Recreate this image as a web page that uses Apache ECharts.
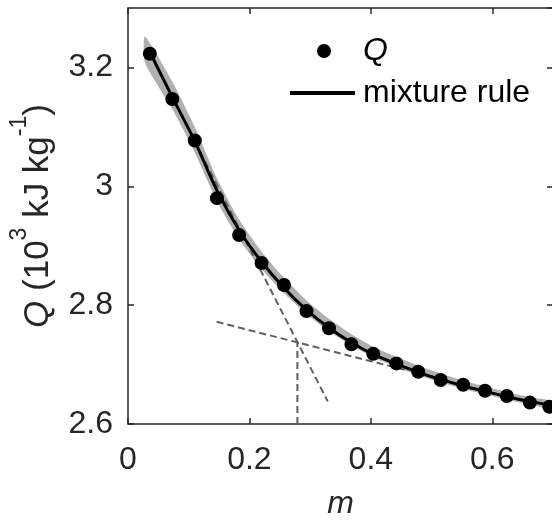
<!DOCTYPE html>
<html>
<head>
<meta charset="utf-8">
<script src="https://cdn.jsdelivr.net/npm/echarts@6/dist/echarts.min.js"></script>
<style>html,body{margin:0;padding:0;background:#fff;}#c{width:552px;height:521px;}</style>
</head>
<body>
<div id="c"></div>
<script>
// Data
var qM = [0.036, 0.073, 0.110, 0.1465, 0.183, 0.220, 0.257, 0.294, 0.331, 0.368, 0.404, 0.442, 0.478, 0.515, 0.552, 0.588, 0.624, 0.662, 0.694];
var qV = [3.223, 3.147, 3.077, 2.980, 2.918, 2.871, 2.834, 2.790, 2.761, 2.734, 2.718, 2.702, 2.688, 2.674, 2.666, 2.656, 2.647, 2.636, 2.629];

var mixM = [0.036, 0.073, 0.110, 0.1465, 0.183, 0.220, 0.257, 0.294, 0.331, 0.368, 0.404, 0.442, 0.478, 0.515, 0.552, 0.588, 0.624, 0.662, 0.700];
var mixV = [3.226, 3.150, 3.076, 2.993, 2.926, 2.873, 2.829, 2.792, 2.762, 2.737, 2.717, 2.701, 2.687, 2.675, 2.664, 2.655, 2.646, 2.638, 2.631];

var bandM  = [0.028, 0.073, 0.110, 0.1465, 0.183, 0.220, 0.257, 0.294, 0.331, 0.368, 0.404, 0.442, 0.478, 0.515, 0.552, 0.588, 0.624, 0.662, 0.700];
var bandHi = [3.252, 3.176, 3.100, 3.013, 2.944, 2.890, 2.846, 2.808, 2.777, 2.751, 2.730, 2.713, 2.698, 2.685, 2.673, 2.663, 2.654, 2.645, 2.638];
var bandLo = [3.208, 3.130, 3.057, 2.975, 2.911, 2.861, 2.820, 2.785, 2.756, 2.732, 2.712, 2.696, 2.682, 2.670, 2.659, 2.650, 2.641, 2.633, 2.625];

var tangentSteep   = [[0.036, 3.223], [0.329, 2.638]];
var tangentShallow = [[0.146, 2.772], [0.46, 2.690]];
var verticalMark   = [[0.279, 2.600], [0.279, 2.738]];

var xTicks = { min: 0, max: 0.7, interval: 0.2 };
var yTicks = { min: 2.6, max: 3.3, interval: 0.2 };

var FONT = 'Liberation Sans, Arial, Helvetica, sans-serif';
var AX = '#262626';
var FS = 32;

function fmt(v) { return String(+v.toFixed(1)); }

var chart = echarts.init(document.getElementById('c'), null, { renderer: 'canvas' });

var axisCommon = {
  type: 'value',
  axisLine: { show: true, onZero: false, lineStyle: { color: AX, width: 1.5 } },
  axisTick: { show: true, inside: true, length: 6, lineStyle: { color: AX, width: 1.5 } },
  splitLine: { show: false }
};

var option = {
  animation: false,
  backgroundColor: '#fff',
  textStyle: { fontFamily: FONT },
  grid: { left: 128, top: 8, width: 425, height: 416, containLabel: false, outerBoundsMode: 'none' },
  legend: [
    {
      data: [{ name: 'Q', icon: 'circle' }],
      left: 312, top: 30, itemWidth: 14, itemHeight: 14,
      selectedMode: false,
      textStyle: { fontFamily: FONT, fontSize: FS, fontStyle: 'italic', color: '#000', padding: [0, 0, 0, 27] }
    },
    {
      data: [{ name: 'mixture rule', icon: 'rect' }],
      left: 285, top: 72, itemWidth: 65, itemHeight: 4,
      selectedMode: false,
      textStyle: { fontFamily: FONT, fontSize: FS, color: '#000', padding: [0, 0, 0, 3] }
    }
  ],
  xAxis: [
    Object.assign({}, axisCommon, {
      position: 'bottom', min: xTicks.min, max: xTicks.max, interval: xTicks.interval,
      axisLabel: { show: true, margin: 20, fontSize: FS, color: AX, fontFamily: FONT, formatter: fmt, showMaxLabel: false },
      name: 'm', nameLocation: 'middle', nameGap: 64,
      nameTextStyle: { fontSize: FS, fontStyle: 'italic', color: AX, fontFamily: FONT }
    }),
    Object.assign({}, axisCommon, {
      position: 'top', min: xTicks.min, max: xTicks.max, interval: xTicks.interval,
      axisLabel: { show: false }
    })
  ],
  yAxis: [
    Object.assign({}, axisCommon, {
      position: 'left', min: yTicks.min, max: yTicks.max, interval: yTicks.interval,
      axisLabel: { show: true, margin: 15, fontSize: FS, color: AX, fontFamily: FONT, formatter: fmt, showMaxLabel: false },
      name: '{i|Q} (10{s|3} kJ kg{s|-1})', nameLocation: 'middle', nameRotate: 90, nameGap: 60,
      nameMoveOverlap: false,
      nameTextStyle: {
        fontSize: 35, color: AX, fontFamily: FONT, lineHeight: 60,
        rich: {
          i: { fontSize: 35, fontStyle: 'italic', color: AX, fontFamily: FONT, lineHeight: 60 },
          s: { fontSize: 23, color: AX, fontFamily: FONT, lineHeight: 23, verticalAlign: 'top' }
        }
      }
    }),
    Object.assign({}, axisCommon, {
      position: 'right', min: yTicks.min, max: yTicks.max, interval: yTicks.interval,
      axisLabel: { show: false }
    })
  ],
  series: [
    {
      name: 'band', type: 'custom', xAxisIndex: 0, yAxisIndex: 0, z: 1,
      data: bandM.map(function (m, i) { return [m, bandLo[i], bandHi[i]]; }),
      renderItem: function (params, api) {
        if (params.dataIndex !== 0) return null;
        var pts = [];
        for (var i = 0; i < bandM.length; i++) pts.push(api.coord([bandM[i], bandHi[i]]));
        for (var j = bandM.length - 1; j >= 0; j--) pts.push(api.coord([bandM[j], bandLo[j]]));
        return { type: 'polygon', shape: { points: pts, smooth: 0.2 }, style: { fill: '#b0b0b0', stroke: null } };
      },
      silent: true
    },
    {
      name: 't1', type: 'line', data: tangentSteep, symbol: 'none', z: 2, silent: true,
      lineStyle: { color: '#606060', width: 2, type: [7, 4] }
    },
    {
      name: 't2', type: 'line', data: tangentShallow, symbol: 'none', z: 2, silent: true,
      lineStyle: { color: '#606060', width: 2, type: [7, 4] }
    },
    {
      name: 't3', type: 'line', data: verticalMark, symbol: 'none', z: 2, silent: true,
      lineStyle: { color: '#606060', width: 2, type: [7, 4] }
    },
    {
      name: 'mixture rule', type: 'line', z: 3, silent: true,
      data: mixM.map(function (m, i) { return [m, mixV[i]]; }),
      symbol: 'none', smooth: 0.25,
      lineStyle: { color: '#000', width: 3 }, itemStyle: { color: '#000' }
    },
    {
      name: 'Q', type: 'scatter', z: 4, silent: true,
      data: qM.map(function (m, i) { return [m, qV[i]]; }),
      symbol: 'circle', symbolSize: 14, itemStyle: { color: '#000', opacity: 1 }
    }
  ]
};
chart.setOption(option);
</script>
</body>
</html>
